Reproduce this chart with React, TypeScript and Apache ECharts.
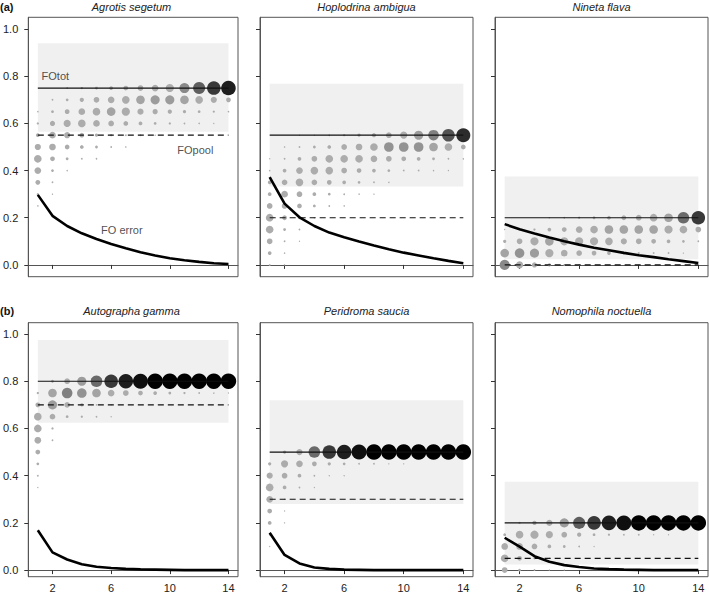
import React, { useEffect, useRef } from 'react';
import * as echarts from 'echarts';

// ---------- data ----------
const nSamples = [1, 2, 3, 4, 5, 6, 7, 8, 9, 10, 11, 12, 13, 14];
const xTicks = [2, 6, 10, 14];
const yTicks = [0, 0.2, 0.4, 0.6, 0.8, 1.0];

const panelTitles = [
  'Agrotis segetum',
  'Hoplodrina ambigua',
  'Nineta flava',
  'Autographa gamma',
  'Peridroma saucia',
  'Nomophila noctuella',
];

const foTot = [0.75, 0.55, 0.2, 0.8, 0.5, 0.2];
const foPool = [0.55, 0.2, 0.0, 0.7, 0.3, 0.05];
const rangeLow = [0.565, 0.332, 0.024, 0.624, 0.28, 0.024];
const rangeHigh = [0.94, 0.768, 0.375, 0.975, 0.72, 0.374];

// FO error curves
const errA = [0.297, 0.208, 0.165, 0.134, 0.11, 0.089, 0.071, 0.054, 0.04, 0.028, 0.02, 0.013, 0.007, 0.004];
const errB = [0.372, 0.26, 0.202, 0.165, 0.137, 0.117, 0.099, 0.082, 0.066, 0.052, 0.04, 0.028, 0.017, 0.007];
const errC = [0.173, 0.151, 0.133, 0.116, 0.1, 0.086, 0.073, 0.062, 0.051, 0.041, 0.033, 0.024, 0.016, 0.008];
const errD = [0.169, 0.075, 0.045, 0.025, 0.014, 0.009, 0.005, 0.003, 0.002, 0.001, 0, 0, 0, 0];
const errE = [0.158, 0.064, 0.028, 0.011, 0.005, 0.002, 0.001, 0, 0, 0, 0, 0, 0, 0];
const errF = [0.137, 0.099, 0.059, 0.035, 0.021, 0.013, 0.007, 0.004, 0.002, 0.001, 0, 0, 0, 0];

// proportion of FO estimates at each level (rows) for each sample size (columns)
const levelsA = [0.75, 0.7, 0.65, 0.6, 0.55, 0.5, 0.45, 0.4, 0.35, 0.3, 0.25];
const propsA = [
  [0, 0, 0.004, 0.01, 0.018, 0.04, 0.071, 0.111, 0.16, 0.25, 0.401, 0.588, 0.751, 0.871],
  [0, 0.004, 0.018, 0.054, 0.111, 0.16, 0.218, 0.284, 0.321, 0.321, 0.284, 0.218, 0.134, 0.071],
  [0.002, 0.018, 0.071, 0.16, 0.218, 0.284, 0.25, 0.134, 0.09, 0.054, 0.028, 0.018, 0.01, 0.003],
  [0.01, 0.09, 0.188, 0.218, 0.16, 0.111, 0.071, 0.04, 0.018, 0.01, 0.004, 0.003, 0.001, 0],
  [0.04, 0.16, 0.134, 0.071, 0.028, 0.01, 0.004, 0.003, 0.001, 0, 0, 0, 0, 0],
  [0.134, 0.16, 0.071, 0.04, 0.018, 0.004, 0.002, 0, 0, 0, 0, 0, 0, 0],
  [0.218, 0.071, 0.018, 0.004, 0.003, 0, 0, 0, 0, 0, 0, 0, 0, 0],
  [0.16, 0.018, 0.002, 0, 0, 0, 0, 0, 0, 0, 0, 0, 0, 0],
  [0.071, 0.004, 0, 0, 0, 0, 0, 0, 0, 0, 0, 0, 0, 0],
  [0.01, 0.001, 0, 0, 0, 0, 0, 0, 0, 0, 0, 0, 0, 0],
  [0.002, 0, 0, 0, 0, 0, 0, 0, 0, 0, 0, 0, 0, 0],
];

const levelsB = [0.55, 0.5, 0.45, 0.4, 0.35, 0.3, 0.25, 0.2, 0.15, 0.1, 0.05, 0.0];
const propsB = [
  [0, 0, 0.001, 0.001, 0.004, 0.01, 0.028, 0.054, 0.111, 0.188, 0.321, 0.444, 0.64, 0.81],
  [0, 0.002, 0.004, 0.018, 0.04, 0.111, 0.16, 0.218, 0.36, 0.36, 0.36, 0.284, 0.218, 0.071],
  [0.001, 0.004, 0.04, 0.111, 0.218, 0.218, 0.218, 0.16, 0.111, 0.071, 0.04, 0.018, 0.004, 0.002],
  [0.002, 0.04, 0.16, 0.218, 0.218, 0.111, 0.071, 0.04, 0.018, 0.004, 0.004, 0.002, 0.001, 0],
  [0.04, 0.111, 0.218, 0.111, 0.071, 0.04, 0.018, 0.004, 0.002, 0, 0, 0, 0, 0],
  [0.04, 0.16, 0.111, 0.04, 0.018, 0.004, 0.002, 0.001, 0, 0, 0, 0, 0, 0],
  [0.111, 0.111, 0.071, 0.018, 0.004, 0.002, 0, 0, 0, 0, 0, 0, 0, 0],
  [0.218, 0.071, 0.018, 0.002, 0, 0, 0, 0, 0, 0, 0, 0, 0, 0],
  [0.218, 0.018, 0.004, 0, 0, 0, 0, 0, 0, 0, 0, 0, 0, 0],
  [0.111, 0.004, 0.001, 0, 0, 0, 0, 0, 0, 0, 0, 0, 0, 0],
  [0.04, 0.002, 0, 0, 0, 0, 0, 0, 0, 0, 0, 0, 0, 0],
  [0.004, 0.001, 0, 0, 0, 0, 0, 0, 0, 0, 0, 0, 0, 0],
];

const levelsC = [0.2, 0.15, 0.1, 0.05, 0.0];
const propsC = [
  [0, 0, 0, 0.002, 0.004, 0.01, 0.018, 0.04, 0.071, 0.111, 0.218, 0.284, 0.538, 0.751],
  [0.001, 0.002, 0.01, 0.04, 0.071, 0.16, 0.218, 0.284, 0.284, 0.284, 0.284, 0.25, 0.218, 0.111],
  [0.028, 0.111, 0.25, 0.284, 0.25, 0.25, 0.25, 0.218, 0.134, 0.111, 0.071, 0.04, 0.018, 0.004],
  [0.284, 0.36, 0.321, 0.25, 0.16, 0.111, 0.071, 0.04, 0.018, 0.01, 0.004, 0.004, 0.001, 0],
  [0.401, 0.188, 0.09, 0.028, 0.004, 0.001, 0, 0, 0, 0, 0, 0, 0, 0],
];

const levelsD = [0.8, 0.75, 0.7, 0.65, 0.6, 0.55, 0.5, 0.45, 0.4, 0.35];
const propsD = [
  [0, 0.018, 0.111, 0.321, 0.538, 0.751, 0.871, 0.934, 1, 1, 1, 1, 1, 1],
  [0.01, 0.284, 0.444, 0.36, 0.284, 0.16, 0.111, 0.071, 0.04, 0.018, 0.01, 0.004, 0.002, 0.001],
  [0.071, 0.321, 0.111, 0.028, 0.002, 0.001, 0, 0, 0, 0, 0, 0, 0, 0],
  [0.218, 0.111, 0.018, 0.01, 0.004, 0.001, 0, 0, 0, 0, 0, 0, 0, 0],
  [0.218, 0.01, 0, 0, 0, 0, 0, 0, 0, 0, 0, 0, 0, 0],
  [0.16, 0.004, 0, 0, 0, 0, 0, 0, 0, 0, 0, 0, 0, 0],
  [0.071, 0, 0, 0, 0, 0, 0, 0, 0, 0, 0, 0, 0, 0],
  [0.018, 0, 0, 0, 0, 0, 0, 0, 0, 0, 0, 0, 0, 0],
  [0.004, 0, 0, 0, 0, 0, 0, 0, 0, 0, 0, 0, 0, 0],
  [0.001, 0, 0, 0, 0, 0, 0, 0, 0, 0, 0, 0, 0, 0],
];

const levelsE = [0.5, 0.45, 0.4, 0.35, 0.3, 0.25, 0.2, 0.15, 0.1];
const propsE = [
  [0, 0.028, 0.134, 0.538, 0.751, 0.871, 0.934, 1, 1, 1, 1, 1, 1, 1],
  [0.028, 0.188, 0.16, 0.071, 0.028, 0.018, 0.004, 0.004, 0.001, 0.001, 0, 0, 0, 0],
  [0.134, 0.111, 0.04, 0.004, 0.001, 0.001, 0, 0, 0, 0, 0, 0, 0, 0],
  [0.218, 0.04, 0.004, 0.001, 0, 0, 0, 0, 0, 0, 0, 0, 0, 0],
  [0.16, 0.001, 0, 0, 0, 0, 0, 0, 0, 0, 0, 0, 0, 0],
  [0.071, 0.001, 0, 0, 0, 0, 0, 0, 0, 0, 0, 0, 0, 0],
  [0.04, 0.001, 0, 0, 0, 0, 0, 0, 0, 0, 0, 0, 0, 0],
  [0.004, 0, 0, 0, 0, 0, 0, 0, 0, 0, 0, 0, 0, 0],
  [0.001, 0, 0, 0, 0, 0, 0, 0, 0, 0, 0, 0, 0, 0],
];

const levelsF = [0.2, 0.15, 0.1, 0.05, 0.0];
const propsF = [
  [0, 0.01, 0.054, 0.134, 0.321, 0.588, 0.751, 0.871, 0.934, 1, 1, 1, 1, 1],
  [0.018, 0.218, 0.25, 0.188, 0.111, 0.054, 0.018, 0.01, 0.004, 0.004, 0.001, 0.001, 0, 0],
  [0.16, 0.16, 0.111, 0.04, 0.018, 0.004, 0.001, 0, 0, 0, 0, 0, 0, 0],
  [0.218, 0.071, 0.01, 0.001, 0, 0, 0, 0, 0, 0, 0, 0, 0, 0],
  [0.111, 0.018, 0.004, 0.001, 0.001, 0, 0, 0, 0, 0, 0, 0, 0, 0],
];

const annotationLabels = ['FOtot', 'FOpool', 'FO error'];
const annotationX = [1.22, 10.48, 5.28];
const annotationY = [0.802, 0.488, 0.148];

// ---------- helpers ----------
const levelsAll = [levelsA, levelsB, levelsC, levelsD, levelsE, levelsF];
const propsAll = [propsA, propsB, propsC, propsD, propsE, propsF];
const errAll = [errA, errB, errC, errD, errE, errF];

const FONT = "'Liberation Sans', Arial, sans-serif";

function grey(p: number) {
  const t = Math.min(1, Math.max(0, (p - 0.25) / 0.75));
  const v = Math.round(172 * (1 - t));
  return `rgb(${v},${v},${v})`;
}

function buildOption() {
  const lefts = [25, 260, 495];
  const tops = [17.3, 322.7];
  const heights = [259.4, 254];
  const yMin = [-0.05, -0.028];
  const yMax = [1.05, 1.048];

  const grid: any[] = [];
  const xAxis: any[] = [];
  const yAxis: any[] = [];
  const series: any[] = [];
  const graphic: any[] = [];

  for (let i = 0; i < 6; i++) {
    const col = i % 3;
    const row = Math.floor(i / 3);
    grid.push({
      left: lefts[col],
      top: tops[row],
      width: 213,
      height: heights[row],
      show: true,
      borderColor: '#555',
      borderWidth: 1,
      backgroundColor: 'transparent',
    });
    xAxis.push({
      type: 'value',
      gridIndex: i,
      min: 0.35,
      max: 14.65,
      axisLine: { show: true, lineStyle: { color: '#555', width: 1 } },
      axisTick: { show: true, length: 4, customValues: xTicks, lineStyle: { color: '#333' } },
      axisLabel: {
        show: row === 1,
        customValues: xTicks,
        margin: 6,
        fontSize: 11,
        color: '#222',
        fontFamily: FONT,
      },
      splitLine: { show: false },
    });
    yAxis.push({
      type: 'value',
      gridIndex: i,
      min: yMin[row],
      max: yMax[row],
      axisLine: { show: true, lineStyle: { color: '#555', width: 1 } },
      axisTick: { show: true, length: 4, customValues: yTicks, lineStyle: { color: '#333' } },
      axisLabel: {
        show: col === 0,
        customValues: yTicks,
        formatter: (v: number) => v.toFixed(1),
        margin: 10,
        fontSize: 11,
        color: '#222',
        fontFamily: FONT,
      },
      splitLine: { show: false },
    });

    // shaded range
    series.push({
      type: 'custom',
      xAxisIndex: i,
      yAxisIndex: i,
      z: 1,
      silent: true,
      data: [[nSamples[0], nSamples[nSamples.length - 1], rangeLow[i], rangeHigh[i]]],
      renderItem: (params: any, api: any) => {
        const p0 = api.coord([api.value(0), api.value(3)]);
        const p1 = api.coord([api.value(1), api.value(2)]);
        return {
          type: 'rect',
          shape: { x: p0[0], y: p0[1], width: p1[0] - p0[0], height: p1[1] - p0[1] },
          style: { fill: '#f0f0f0' },
        };
      },
    });

    // bubbles
    const bubbles: any[] = [];
    levelsAll[i].forEach((lv, r) => {
      propsAll[i][r].forEach((p, k) => {
        if (p > 0) bubbles.push([nSamples[k], lv, p]);
      });
    });
    bubbles.sort((a, b) => a[2] - b[2]);
    series.push({
      type: 'scatter',
      xAxisIndex: i,
      yAxisIndex: i,
      z: 2,
      silent: true,
      data: bubbles,
      symbol: 'circle',
      symbolSize: (v: number[]) => 0.8 + 14.7 * Math.sqrt(v[2]),
      itemStyle: { color: (params: any) => grey(params.data[2]), opacity: 1 },
    });

    // FOtot
    series.push({
      type: 'line',
      xAxisIndex: i,
      yAxisIndex: i,
      z: 3,
      silent: true,
      symbol: 'none',
      data: [[nSamples[0], foTot[i]], [nSamples[nSamples.length - 1], foTot[i]]],
      lineStyle: { color: '#111', width: 1.2 },
    });
    // FOpool
    series.push({
      type: 'line',
      xAxisIndex: i,
      yAxisIndex: i,
      z: 3,
      silent: true,
      symbol: 'none',
      data: [[nSamples[0], foPool[i]], [nSamples[nSamples.length - 1], foPool[i]]],
      lineStyle: { color: '#111', width: 1.2, type: [6, 4] },
    });
    // FO error
    series.push({
      type: 'line',
      xAxisIndex: i,
      yAxisIndex: i,
      z: 4,
      silent: true,
      symbol: 'none',
      data: nSamples.map((n, k) => [n, errAll[i][k]]),
      lineStyle: { color: '#000', width: 2.6 },
    });

    graphic.push({
      type: 'text',
      x: lefts[col] + 106.5,
      y: row === 0 ? 7 : 310.7,
      style: {
        text: panelTitles[i],
        fontSize: 11,
        fontStyle: 'italic',
        fontFamily: FONT,
        fill: '#222',
        align: 'center',
        verticalAlign: 'middle',
      },
    });
  }

  // annotations in panel (a)
  series.push({
    type: 'scatter',
    xAxisIndex: 0,
    yAxisIndex: 0,
    z: 5,
    silent: true,
    symbolSize: 1,
    itemStyle: { color: 'rgba(0,0,0,0)' },
    data: annotationLabels.map((t, k) => [annotationX[k], annotationY[k], t]),
    label: {
      show: true,
      position: 'right',
      distance: 0,
      formatter: (p: any) => p.data[2],
      fontSize: 11,
      color: '#222',
      fontFamily: FONT,
    },
  });

  graphic.push({
    type: 'text',
    x: 0,
    y: 7,
    style: { text: '(a)', fontSize: 11, fontWeight: 'bold', fontFamily: FONT, fill: '#111', verticalAlign: 'middle' },
  });
  graphic.push({
    type: 'text',
    x: 0,
    y: 310.7,
    style: { text: '(b)', fontSize: 11, fontWeight: 'bold', fontFamily: FONT, fill: '#111', verticalAlign: 'middle' },
  });

  return {
    animation: false,
    backgroundColor: '#fff',
    grid,
    xAxis,
    yAxis,
    series,
    graphic,
  };
}

export default function App() {
  const ref = useRef<HTMLDivElement>(null);
  useEffect(() => {
    if (!ref.current) return;
    const chart = echarts.init(ref.current, null, { renderer: 'svg' });
    chart.setOption(buildOption() as any);
    return () => chart.dispose();
  }, []);
  return (
    <div
      ref={ref}
      style={{ position: 'fixed', left: 0, top: 0, width: 709, height: 603, background: '#fff' }}
    />
  );
}
